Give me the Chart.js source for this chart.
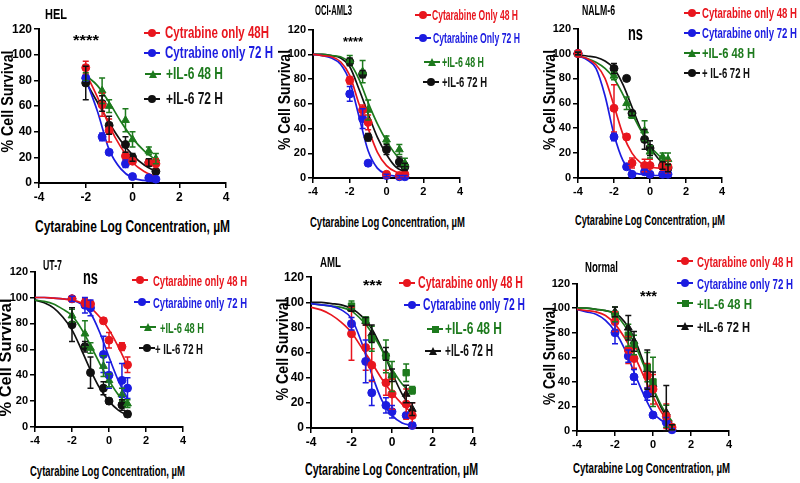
<!DOCTYPE html>
<html>
<head>
<meta charset="utf-8">
<script src="https://cdn.jsdelivr.net/npm/chart.js@4.4.0/dist/chart.umd.min.js"></script>
<style>
  body { margin: 0; background: #fff; width: 800px; height: 483px; position: relative; overflow: hidden; }
  canvas { position: absolute; }
  .t { position: absolute; white-space: nowrap; font-weight: bold; line-height: 1; }
  .m { position: absolute; }
</style>
</head>
<body>
<script>
// log10 concentrations (µM) of the measured points
const doses = [-2, -1.3, -1, -0.3, 0, 0.7, 1];
const nalmDoses = [-4, -2, -1.3, -1, -0.3, 0, 0.7, 1];
const curveX = [-4, -3.5, -3, -2.5, -2, -1.5, -1, -0.5, 0, 0.5, 1];
const xTicks = [-4, -2, 0, 2, 4];
const yTicks = [0, 20, 40, 60, 80, 100, 120];

// HEL
const hel48 = [90, 61, 41, 21, 17, 16, 15];
const hel48Err = [5, 9, 9, 3, 2, 3, 4];
const hel72 = [82, 36, 24, 15, 5, 4, 3];
const hel72Err = [2, 3, 2, 3, 1, 1, 1];
const helIl48 = [83, 72, 60, 49, 34, 25, 19];
const helIl48Err = [3, 10, 5, 9, 6, 3, 4];
const helIl72 = [78, 62, 45, 30, 20, 16, 9];
const helIl72Err = [13, 6, 7, 6, 3, 3, 2];
const helFit48 = [null, null, null, null, 86, 67, 45, 28, 16, 9, 5];
const helFit72 = [null, null, null, null, 81, 56, 26, 11, 4, 2, 1];
const helFitIl48 = [null, null, null, null, 84, 76, 63, 48, 35, 25, 18];
const helFitIl72 = [null, null, null, null, 79, 63, 47, 33, 22, 14, 9];

// OCI-AML3 (no point at -0.3)
const oci48 = [79, 55, 45, null, 3, 2, 3];
const oci48Err = [3, 4, 6, 0, 1, 1, 1];
const oci72 = [68, 48, 12, null, 2, 1, 1];
const oci72Err = [6, 8, 2, 0, 1, 1, 1];
const ociIl48 = [95, 86, 55, null, 31, 23, 12];
const ociIl48Err = [4, 9, 8, 0, 3, 4, 4];
const ociIl72 = [94, 84, 33, null, 23, 13, 9];
const ociIl72Err = [3, 3, 3, 0, 4, 4, 3];
const ociFit48 = [100, 99, 98, 94, 83, 60, 40, 21, 10, 5, 3];
const ociFit72 = [100, 99, 97, 92, 78, 50, 22, 8, 3, 1.5, 1];
const ociFitIl48 = [100, 100, 99, 98, 93, 80, 61, 44, 30, 19, 12];
const ociFitIl72 = [100, 100, 99, 97, 90, 72, 52, 33, 19, 9, 5];

// NALM-6
const nalm48 = [100, 56, 33, 12, 10, 10, 9, 9];
const nalm48Err = [2, 19, 2, 4, 5, 5, 4, 5];
const nalm72 = [100, 33, 9, 3, 5, 3, 3, 3];
const nalm72Err = [1, 3, 2, 1, 2, 2, 2, 2];
const nalmIl48 = [100, 82, 60, 50, 38, 21, 17, 15];
const nalmIl48Err = [1, 3, 5, 2, 8, 5, 3, 5];
const nalmIl72 = [100, 88, 80, 52, 31, 24, 10, 8];
const nalmIl72Err = [1, 4, 1, 2, 8, 6, 3, 3];
const nalmFit48 = [98, 96, 91, 80, 58, 35, 20, 12, 9, 8, 8];
const nalmFit72 = [98, 95, 88, 66, 35, 14, 5, 3, 2, 2, 2];
const nalmFitIl48 = [98, 96, 93, 88, 80, 67, 52, 38, 26, 18, 13];
const nalmFitIl72 = [99, 98, 97, 94, 88, 75, 57, 39, 25, 15, 10];

// UT-7
const ut48 = [99, 96, 95, 82, 67, 62, 48];
const ut48Err = [1, 3, 2, 2, 6, 3, 6];
const ut72 = [99, 94, 92, 56, 40, 36, 30];
const ut72Err = [2, 6, 6, 14, 10, 13, 8];
const utIl48 = [86, 72, 61, 47, 36, 25, 18];
const utIl48Err = [5, 10, 4, 8, 5, 5, 3];
const utIl72 = [79, 62, 42, 30, 20, 17, 10];
const utIl72Err = [13, 4, 12, 5, 2, 4, 2];
const utFit48 = [100, 100, 99.5, 99, 98, 96, 92, 85, 75, 62, 47];
const utFit72 = [100, 100, 99.5, 99, 98, 95, 88, 73, 54, 36, 22];
const utFitIl48 = [98, 97, 95, 91, 86, 76, 63, 49, 36, 25, 18];
const utFitIl72 = [98, 96, 92, 85, 75, 60, 44, 30, 20, 13, 9];

// AML
const aml48 = [75, 64, 50, 36, 27, 19, 10];
const aml48Err = [21, 18, 13, 10, 12, 12, 10];
const aml72 = [83, 53, 28, 18, 13, 10, 2];
const aml72Err = [5, 17, 10, 6, 5, 2, 2];
const amlIl48 = [97, 86, 71, 57, 41, 44, 30];
const amlIl48Err = [4, 2, 10, 13, 12, 7, 3];
const amlIl72 = [95, 85, 75, 59, 42, 27, 15];
const amlIl72Err = [2, 3, 7, 5, 5, 7, 5];
const amlFit48 = [96, 94, 90, 84, 76, 64, 52, 39, 28, 19, 12];
const amlFit72 = [99, 98, 97, 94, 87, 68, 43, 22, 10, 4, 2];
const amlFitIl48 = [99, 98, 97, 96, 93, 86, 76, 62, 47, 35, 27];
const amlFitIl72 = [100, 100, 99, 98, 95, 89, 79, 63, 44, 27, 15];

// Normal
const nor48 = [89, 66, 59, 45, 34, 12, 3];
const nor48Err = [8, 11, 8, 10, 12, 10, 2];
const nor72 = [80, 61, 44, 30, 13, 7, 1];
const nor72Err = [9, 5, 6, 5, 2, 4, 1];
const norIl48 = [95, 78, 70, 52, 40, 12, 3];
const norIl48Err = [6, 9, 8, 12, 20, 9, 2];
const norIl72 = [97, 84, 73, 50, 38, 15, 3];
const norIl72Err = [4, 10, 8, 16, 10, 22, 2];
const norFit48 = [99, 98, 97, 94, 87, 76, 62, 45, 28, 14, 7];
const norFit72 = [99, 97, 95, 90, 81, 67, 48, 30, 15, 8, 4];
const norFitIl48 = [100, 100, 99, 98, 95, 86, 72, 54, 35, 19, 8];
const norFitIl72 = [100, 100, 99, 98, 96, 89, 76, 56, 35, 17, 7];

const RED = '#e8161e';
const BLUE = '#1c1ce0';
const GREEN = '#1d7a1d';
const BLACK = '#111111';
const FAMILY = '"Liberation Sans", Arial, sans-serif';

// error bars drawn from each point's e value
const errorBars = {
  id: 'errorBars',
  afterDatasetsDraw(chart) {
    const ctx = chart.ctx;
    const y = chart.scales.y;
    chart.data.datasets.forEach((ds, di) => {
      if (!ds.isPoints) return;
      const meta = chart.getDatasetMeta(di);
      ctx.save();
      ctx.strokeStyle = ds.borderColor;
      ctx.lineWidth = 1.5;
      ds.data.forEach((d, i) => {
        if (!d.e) return;
        const px = meta.data[i].x;
        const top = y.getPixelForValue(d.y + d.e);
        const bot = y.getPixelForValue(Math.max(0, d.y - d.e));
        ctx.beginPath();
        ctx.moveTo(px, top); ctx.lineTo(px, bot);
        ctx.moveTo(px - 3, top); ctx.lineTo(px + 3, top);
        ctx.moveTo(px - 3, bot); ctx.lineTo(px + 3, bot);
        ctx.stroke();
      });
      ctx.restore();
    });
  }
};

function makePanel(p) {
  const ML = 36, MT = 8, MB = 22, MR = 10;
  const w = p.R - p.L + ML + MR, h = p.B - p.T + MT + MB;
  const cv = document.createElement('canvas');
  cv.width = w; cv.height = h;
  cv.style.left = (p.L - ML) + 'px';
  cv.style.top = (p.T - MT) + 'px';
  cv.style.width = w + 'px';
  cv.style.height = h + 'px';
  document.body.appendChild(cv);

  const datasets = [];
  p.series.forEach(s => {
    datasets.push({
      type: 'scatter',
      isPoints: true,
      data: p.doses.map((x, i) => ({ x: x, y: s.values[i], e: s.errors[i] })).filter(d => d.y != null),
      backgroundColor: s.color,
      borderColor: s.color,
      pointStyle: s.shape,
      pointRadius: s.shape === 'circle' ? 4 : 4.5,
      borderWidth: 1,
      clip: false,
      order: 0
    });
    datasets.push({
      type: 'line',
      data: curveX.map((x, i) => ({ x: x, y: s.curve[i] })).filter(d => d.y != null),
      borderColor: s.color,
      borderWidth: 1.7,
      pointRadius: 0,
      fill: false,
      cubicInterpolationMode: 'monotone',
      clip: false,
      order: 1
    });
  });

  const tickFont = { family: FAMILY, size: p.tick, weight: 'bold' };
  new Chart(cv.getContext('2d'), {
    type: 'scatter',
    data: { datasets: datasets },
    options: {
      responsive: false,
      animation: false,
      devicePixelRatio: 1,
      layout: { padding: { top: MT, right: MR, left: 0, bottom: 0 } },
      plugins: { legend: { display: false }, tooltip: { enabled: false } },
      scales: {
        x: {
          type: 'linear', min: -4, max: 4,
          afterBuildTicks: s => { s.ticks = xTicks.map(v => ({ value: v })); },
          afterFit: s => { s.height = MB; },
          border: { color: '#000', width: 2 },
          grid: { drawOnChartArea: false, color: '#000', lineWidth: 1.5, tickLength: 5 },
          ticks: { color: '#000', font: tickFont, padding: 2, maxRotation: 0 }
        },
        y: {
          type: 'linear', min: 0, max: 120,
          afterBuildTicks: s => { s.ticks = yTicks.map(v => ({ value: v })); },
          afterFit: s => { s.width = ML; },
          border: { color: '#000', width: 2 },
          grid: { drawOnChartArea: false, color: '#000', lineWidth: 1.5, tickLength: 5 },
          ticks: { color: '#000', font: tickFont, padding: 2 }
        }
      }
    },
    plugins: [errorBars]
  });
}

// text squeezed to the width it has in the figure
const mctx = document.createElement('canvas').getContext('2d');
function addText(str, x, cy, size, color, width, rotated) {
  const font = 'bold ' + size + 'px ' + FAMILY;
  mctx.font = font;
  const w = mctx.measureText(str).width;
  const s = width / w;
  const d = document.createElement('div');
  d.className = 't';
  d.textContent = str;
  d.style.font = font;
  d.style.lineHeight = '1';
  d.style.color = color;
  d.style.top = (cy - size / 2) + 'px';
  if (rotated) {
    d.style.left = (x - w / 2) + 'px';
    d.style.transformOrigin = 'center';
    d.style.transform = 'rotate(-90deg) scaleX(' + s + ')';
  } else {
    d.style.left = x + 'px';
    d.style.transformOrigin = 'left center';
    d.style.transform = 'scaleX(' + s + ')';
  }
  document.body.appendChild(d);
}

function addMarker(cx, cy, color, shape) {
  const line = document.createElement('div');
  line.className = 'm';
  Object.assign(line.style, { left: (cx - 8) + 'px', top: (cy - 1) + 'px', width: '16px', height: '2px', background: color });
  document.body.appendChild(line);
  const m = document.createElement('div');
  m.className = 'm';
  const sz = shape === 'rect' ? 7 : 8;
  Object.assign(m.style, { left: (cx - sz / 2) + 'px', top: (cy - sz / 2) + 'px', width: sz + 'px', height: sz + 'px', background: color });
  if (shape === 'circle') m.style.borderRadius = '50%';
  if (shape === 'triangle') m.style.clipPath = 'polygon(50% 0, 100% 100%, 0 100%)';
  document.body.appendChild(m);
}

const panels = [
  { L: 39, R: 226, T: 28, B: 183, tick: 12, doses: doses, series: [
    { color: RED, shape: 'circle', values: hel48, errors: hel48Err, curve: helFit48 },
    { color: BLUE, shape: 'circle', values: hel72, errors: hel72Err, curve: helFit72 },
    { color: GREEN, shape: 'triangle', values: helIl48, errors: helIl48Err, curve: helFitIl48 },
    { color: BLACK, shape: 'circle', values: helIl72, errors: helIl72Err, curve: helFitIl72 }] },
  { L: 313, R: 460, T: 29, B: 178, tick: 11, doses: doses, series: [
    { color: RED, shape: 'circle', values: oci48, errors: oci48Err, curve: ociFit48 },
    { color: BLUE, shape: 'circle', values: oci72, errors: oci72Err, curve: ociFit72 },
    { color: GREEN, shape: 'triangle', values: ociIl48, errors: ociIl48Err, curve: ociFitIl48 },
    { color: BLACK, shape: 'circle', values: ociIl72, errors: ociIl72Err, curve: ociFitIl72 }] },
  { L: 578, R: 722, T: 28, B: 178, tick: 11, doses: nalmDoses, series: [
    { color: RED, shape: 'circle', values: nalm48, errors: nalm48Err, curve: nalmFit48 },
    { color: BLUE, shape: 'circle', values: nalm72, errors: nalm72Err, curve: nalmFit72 },
    { color: GREEN, shape: 'triangle', values: nalmIl48, errors: nalmIl48Err, curve: nalmFitIl48 },
    { color: BLACK, shape: 'circle', values: nalmIl72, errors: nalmIl72Err, curve: nalmFitIl72 }] },
  { L: 35, R: 183, T: 271, B: 427, tick: 11, doses: doses, series: [
    { color: RED, shape: 'circle', values: ut48, errors: ut48Err, curve: utFit48 },
    { color: BLUE, shape: 'circle', values: ut72, errors: ut72Err, curve: utFit72 },
    { color: GREEN, shape: 'triangle', values: utIl48, errors: utIl48Err, curve: utFitIl48 },
    { color: BLACK, shape: 'circle', values: utIl72, errors: utIl72Err, curve: utFitIl72 }] },
  { L: 311, R: 473, T: 276, B: 428, tick: 12, doses: doses, series: [
    { color: RED, shape: 'circle', values: aml48, errors: aml48Err, curve: amlFit48 },
    { color: BLUE, shape: 'circle', values: aml72, errors: aml72Err, curve: amlFit72 },
    { color: GREEN, shape: 'rect', values: amlIl48, errors: amlIl48Err, curve: amlFitIl48 },
    { color: BLACK, shape: 'triangle', values: amlIl72, errors: amlIl72Err, curve: amlFitIl72 }] },
  { L: 577, R: 729, T: 283, B: 431, tick: 11, doses: doses, series: [
    { color: RED, shape: 'circle', values: nor48, errors: nor48Err, curve: norFit48 },
    { color: BLUE, shape: 'circle', values: nor72, errors: nor72Err, curve: norFit72 },
    { color: GREEN, shape: 'rect', values: norIl48, errors: norIl48Err, curve: norFitIl48 },
    { color: BLACK, shape: 'triangle', values: norIl72, errors: norIl72Err, curve: norFitIl72 }] }
];
panels.forEach(makePanel);

// titles and significance marks
addText('HEL', 45, 13, 15, '#000', 22);
addText('OCI-AML3', 315, 10, 14, '#000', 37);
addText('NALM-6', 582, 10, 14, '#000', 33);
addText('UT-7', 43, 265, 14, '#000', 19);
addText('AML', 320, 261, 15, '#000', 21);
addText('Normal', 585, 267, 14, '#000', 33);
addText('****', 73, 39, 15, '#000', 26);
addText('****', 343, 41, 13, '#000', 20);
addText('ns', 628, 33, 20, '#000', 15);
addText('ns', 83, 277, 20, '#000', 15);
addText('***', 363, 284, 15, '#000', 19);
addText('***', 640, 296, 14, '#000', 17);

// axis titles
const xTitle = 'Cytarabine Log Concentration, \u00b5M';
addText(xTitle, 35, 227, 16, '#000', 195);
addText(xTitle, 310, 222, 14, '#000', 155);
addText(xTitle, 575, 220, 14, '#000', 150);
addText(xTitle, 30, 470, 15, '#000', 155);
addText(xTitle, 305, 470, 16, '#000', 173);
addText(xTitle, 573, 467, 15, '#000', 157);
const yTitle = '% Cell Survival';
addText(yTitle, 8, 101, 17, '#000', 102, true);
addText(yTitle, 285, 100, 16, '#000', 100, true);
addText(yTitle, 550, 100, 16, '#000', 100, true);
addText(yTitle, 6, 357, 17, '#000', 118, true);
addText(yTitle, 283, 349, 17, '#000', 102, true);
addText(yTitle, 550, 356, 16, '#000', 98, true);

// legends
const legends = [
  { size: 16, rows: [
    [152, 33, 165, 'Cytrabine only 48H', RED, 'circle', 104],
    [152, 53, 165, 'Cytrabine only 72 H', BLUE, 'circle', 108],
    [153, 74, 166, '+IL-6 48 H', GREEN, 'triangle', 57],
    [152, 99, 166, '+IL-6 72 H', BLACK, 'circle', 57]] },
  { size: 14, rows: [
    [423, 15, 432, 'Cytarabine Only 48 H', RED, 'circle', 86],
    [423, 38, 433, 'Cytarabine Only 72 H', BLUE, 'circle', 87],
    [432, 62, 442, '+IL-6 48 H', GREEN, 'triangle', 42],
    [431, 82, 442, '+IL-6 72 H', BLACK, 'circle', 45]] },
  { size: 14, rows: [
    [692, 13, 702, 'Cytarabine only 48 H', RED, 'circle', 95],
    [692, 33, 702, 'Cytarabine only 72 H', BLUE, 'circle', 95],
    [692, 53, 702, '+IL-6 48 H', GREEN, 'triangle', 53],
    [692, 73, 702, '+ IL-6 72 H', BLACK, 'circle', 48]] },
  { size: 15, rows: [
    [140, 280, 153, 'Cytarabine only 48 H', RED, 'circle', 94],
    [142, 302, 153, 'Cytarabine only 72 H', BLUE, 'circle', 94],
    [148, 327, 160, '+IL-6 48 H', GREEN, 'triangle', 44],
    [147, 348, 155, '+ IL-6 72 H', BLACK, 'circle', 48]] },
  { size: 16, rows: [
    [407, 283, 418, 'Cytarabine only 48 H', RED, 'circle', 105],
    [412, 305, 423, 'Cytarabine only 72 H', BLUE, 'circle', 102],
    [435, 329, 445, '+IL-6 48 H', GREEN, 'rect', 57],
    [433, 351, 445, '+IL-6 72 H', BLACK, 'triangle', 48]] },
  { size: 15, rows: [
    [685, 261, 697, 'Cytarabine only 48 H', RED, 'circle', 96],
    [685, 283, 697, 'Cytarabine only 72 H', BLUE, 'circle', 96],
    [685, 303, 697, '+IL-6 48 H', GREEN, 'rect', 55],
    [685, 326, 697, '+IL-6 72 H', BLACK, 'triangle', 53]] }
];
legends.forEach(lg => {
  lg.rows.forEach(r => {
    addMarker(r[0], r[1], r[4], r[5]);
    addText(r[3], r[2], r[1], lg.size, r[4], r[6]);
  });
});
</script>
</body>
</html>
